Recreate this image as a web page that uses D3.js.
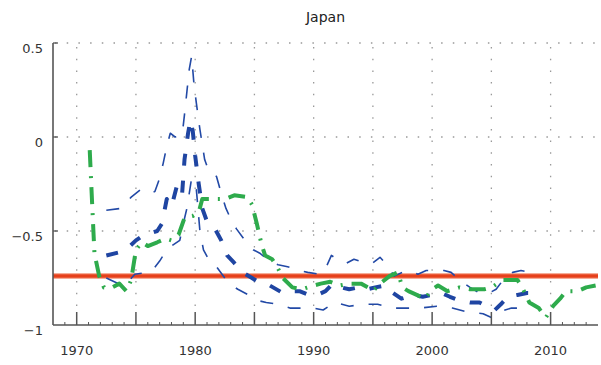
<!DOCTYPE html>
<html>
<head>
<meta charset="utf-8">
<script src="https://cdn.jsdelivr.net/npm/d3@7"></script>
<style>
body { margin: 0; background: #fff; }
text { font-family: "DejaVu Sans", sans-serif; fill: #333; }
</style>
</head>
<body>
<svg id="chart" width="601" height="365"></svg>
<script>
// chart values
var title = "Japan";
var xLabelTicks = [1970, 1980, 1990, 2000, 2010];
var xGridTicks = [1970, 1975, 1980, 1985, 1990, 1995, 2000, 2005, 2010];
var yTicks = [-1, -0.5, 0, 0.5];
var yTickLabels = ["\u22121", "\u22120.5", "0", "0.5"];
var refLevel = [-0.74];

// thin blue dashed, upper band
var upperBand = [
  [1972.5,-0.39],[1973.7,-0.38],[1974.6,-0.32],[1975.4,-0.28],[1976.0,-0.30],[1976.6,-0.29],
  [1977.0,-0.22],[1977.3,-0.14],[1977.6,-0.05],[1977.9,0.02],[1978.3,0.0],[1978.9,0.01],
  [1979.1,0.12],[1979.3,0.24],[1979.5,0.36],[1979.7,0.43],[1979.9,0.28],[1980.1,0.18],
  [1980.4,0.04],[1980.8,-0.12],[1981.2,-0.19],[1981.8,-0.21],[1982.2,-0.30],[1982.6,-0.38],
  [1983.1,-0.45],[1983.5,-0.49],[1984.2,-0.55],[1984.9,-0.60],[1985.5,-0.62],[1986.3,-0.66],
  [1987.0,-0.68],[1987.8,-0.69],[1988.8,-0.71],[1989.5,-0.72],[1990.5,-0.73],[1991.0,-0.70],
  [1991.5,-0.63],[1992.2,-0.66],[1992.8,-0.67],[1993.4,-0.65],[1994.3,-0.67],[1995.0,-0.67],
  [1995.6,-0.64],[1996.2,-0.68],[1996.8,-0.74],[1997.5,-0.72],[1998.1,-0.71],[1998.8,-0.73],
  [1999.5,-0.71],[2000.4,-0.71],[2001.0,-0.71],[2001.6,-0.72],[2002.5,-0.77],[2003.2,-0.80],
  [2004.0,-0.83],[2004.8,-0.83],[2005.4,-0.81],[2006.0,-0.76],[2006.8,-0.72],[2007.5,-0.71],
  [2008.2,-0.72]
];

// thick blue dashed, central estimate
var centralLine = [
  [1972.5,-0.63],[1973.8,-0.61],[1974.5,-0.58],[1975.0,-0.55],[1975.7,-0.52],[1976.3,-0.51],
  [1976.8,-0.50],[1977.2,-0.46],[1977.6,-0.33],[1978.0,-0.37],[1978.5,-0.25],[1978.9,-0.30],
  [1979.1,-0.12],[1979.4,0.02],[1979.6,0.09],[1979.8,0.03],[1980.0,-0.10],[1980.3,-0.25],
  [1980.6,-0.38],[1981.0,-0.45],[1981.6,-0.48],[1982.2,-0.55],[1982.7,-0.63],[1983.3,-0.67],
  [1984.0,-0.72],[1984.8,-0.75],[1985.3,-0.77],[1986.3,-0.79],[1987.4,-0.83],[1988.0,-0.82],
  [1988.8,-0.82],[1989.6,-0.84],[1990.3,-0.84],[1991.0,-0.82],[1991.6,-0.78],[1992.3,-0.80],
  [1993.0,-0.81],[1993.8,-0.80],[1994.5,-0.81],[1995.2,-0.80],[1996.0,-0.79],[1996.7,-0.83],
  [1997.4,-0.86],[1998.5,-0.84],[1999.2,-0.85],[2000.0,-0.84],[2000.8,-0.83],[2001.5,-0.85],
  [2002.3,-0.87],[2003.2,-0.88],[2004.0,-0.88],[2004.6,-0.90],[2005.3,-0.92],[2005.8,-0.89],
  [2006.4,-0.85],[2007.2,-0.84],[2008.0,-0.83],[2008.9,-0.83]
];

// thin blue dashed, lower band
var lowerBand = [
  [1972.5,-0.75],[1973.5,-0.78],[1974.2,-0.78],[1974.9,-0.73],[1976.0,-0.72],[1976.5,-0.70],
  [1977.0,-0.66],[1977.4,-0.62],[1978.0,-0.58],[1978.7,-0.55],[1979.0,-0.46],[1979.3,-0.38],
  [1979.7,-0.22],[1980.1,-0.28],[1980.4,-0.50],[1980.7,-0.60],[1981.3,-0.67],[1981.8,-0.69],
  [1982.5,-0.75],[1983.1,-0.79],[1983.6,-0.81],[1984.5,-0.84],[1985.3,-0.87],[1986.0,-0.88],
  [1987.0,-0.89],[1988.0,-0.91],[1989.0,-0.91],[1990.0,-0.91],[1990.8,-0.92],[1991.8,-0.88],
  [1993.0,-0.90],[1994.3,-0.89],[1995.4,-0.89],[1996.6,-0.91],[1997.8,-0.91],[1999.0,-0.91],
  [2000.4,-0.90],[2001.7,-0.91],[2002.9,-0.93],[2004.3,-0.94],[2005.0,-0.96],[2005.6,-0.93],
  [2006.7,-0.91],[2007.8,-0.91]
];

// thick green dash-dot, actual
var actualLine = [
  [1971.1,-0.07],[1971.3,-0.35],[1971.5,-0.62],[1971.9,-0.74],[1972.3,-0.80],[1973.0,-0.80],
  [1973.6,-0.78],[1974.2,-0.82],[1974.6,-0.76],[1975.0,-0.60],[1975.5,-0.56],[1976.0,-0.58],
  [1976.8,-0.56],[1977.5,-0.54],[1978.0,-0.55],[1978.6,-0.52],[1979.1,-0.43],[1979.8,-0.42],
  [1980.3,-0.40],[1980.6,-0.33],[1981.8,-0.33],[1982.5,-0.33],[1983.3,-0.31],[1984.4,-0.32],
  [1984.8,-0.36],[1985.2,-0.46],[1985.6,-0.57],[1985.9,-0.63],[1986.5,-0.65],[1987.0,-0.70],
  [1987.4,-0.75],[1988.2,-0.80],[1989.0,-0.81],[1990.0,-0.79],[1990.6,-0.78],[1991.4,-0.77],
  [1992.2,-0.79],[1993.0,-0.78],[1994.0,-0.78],[1994.6,-0.80],[1995.0,-0.82],[1995.8,-0.77],
  [1996.4,-0.74],[1997.1,-0.72],[1997.5,-0.80],[1998.0,-0.82],[1998.7,-0.84],[1999.4,-0.86],
  [2000.0,-0.81],[2000.5,-0.79],[2001.3,-0.82],[2002.3,-0.80],[2003.2,-0.81],[2004.4,-0.81],
  [2005.0,-0.80],[2005.5,-0.78],[2006.0,-0.76],[2007.2,-0.76],[2007.6,-0.80],[2008.2,-0.88],
  [2009.0,-0.91],[2009.6,-0.96],[2010.2,-0.90],[2010.8,-0.86],[2011.3,-0.82],[2012.3,-0.82],
  [2013.0,-0.80],[2013.8,-0.79]
];

var svg = d3.select('#chart');
var margin = {l: 53, r: 3, t: 43, b: 40};
var width = +svg.attr('width');
var height = +svg.attr('height');

var x = d3.scaleLinear().domain([1968, 2014]).range([margin.l, width - margin.r]);
var y = d3.scaleLinear().domain([-1, 0.5]).range([height - margin.b, margin.t]);

var x0 = x.range()[0], x1 = x.range()[1];
var y0 = y.range()[0], y1 = y.range()[1];

// title
svg.append('text')
  .attr('x', (x0 + x1) / 2)
  .attr('y', 22)
  .attr('text-anchor', 'middle')
  .style('font-size', '14px')
  .style('fill', '#222')
  .text(title);

// dotted grid
var grid = svg.append('g').attr('class', 'grid');
grid.selectAll('.hgrid')
  .data(yTicks.filter(function(d) { return d > -1; }))
  .enter().append('line')
  .attr('x1', x0 + 2).attr('x2', x1)
  .attr('y1', function(d) { return y(d); })
  .attr('y2', function(d) { return y(d); })
  .style('stroke', '#999')
  .style('stroke-width', 1.3)
  .style('stroke-dasharray', '1.5,10.2');

grid.selectAll('.vgrid')
  .data(xGridTicks)
  .enter().append('line')
  .attr('x1', function(d) { return x(d); })
  .attr('x2', function(d) { return x(d); })
  .attr('y1', y1 + 4).attr('y2', y0 - 14)
  .style('stroke', '#999')
  .style('stroke-width', 1.3)
  .style('stroke-dasharray', '1.5,10.2');

// reference level (red)
svg.selectAll('.ref-halo')
  .data(refLevel)
  .enter().append('line')
  .attr('x1', x0).attr('x2', x1)
  .attr('y1', function(d) { return y(d); })
  .attr('y2', function(d) { return y(d); })
  .style('stroke', '#f5ad98')
  .style('stroke-width', 6);
svg.selectAll('.ref-core')
  .data(refLevel)
  .enter().append('line')
  .attr('x1', x0).attr('x2', x1)
  .attr('y1', function(d) { return y(d); })
  .attr('y2', function(d) { return y(d); })
  .style('stroke', '#e6401b')
  .style('stroke-width', 3.5);

var line = d3.line()
  .x(function(d) { return x(d[0]); })
  .y(function(d) { return y(d[1]); });

var series = [
  {data: upperBand, color: '#2249a6', w: 1.6, dash: '13,15'},
  {data: lowerBand, color: '#2249a6', w: 1.6, dash: '13,15'},
  {data: centralLine, color: '#1f45a2', w: 4, dash: '12,15'},
  {data: actualLine, color: '#2eab4c', w: 4, dash: '17,9,2,9'}
];

svg.selectAll('.series')
  .data(series)
  .enter().append('path')
  .attr('class', 'series')
  .attr('d', function(d) { return line(d.data); })
  .style('fill', 'none')
  .style('stroke', function(d) { return d.color; })
  .style('stroke-width', function(d) { return d.w; })
  .style('stroke-dasharray', function(d) { return d.dash; })
  .style('stroke-linejoin', 'round');

// axes
var axisColor = '#555';
svg.append('line')
  .attr('x1', x0).attr('x2', x0)
  .attr('y1', y1).attr('y2', y0)
  .style('stroke', axisColor).style('stroke-width', 1.6);
svg.append('line')
  .attr('x1', x0).attr('x2', x1)
  .attr('y1', y0).attr('y2', y0)
  .style('stroke', axisColor).style('stroke-width', 1.6);

// y ticks and labels
svg.selectAll('.ytick')
  .data(yTicks.filter(function(d) { return d > -1; }))
  .enter().append('line')
  .attr('x1', x0).attr('x2', x0 + 5)
  .attr('y1', function(d) { return y(d); })
  .attr('y2', function(d) { return y(d); })
  .style('stroke', axisColor).style('stroke-width', 1.3);

svg.selectAll('.ylabel')
  .data(yTicks)
  .enter().append('text')
  .attr('x', x0 - 10)
  .attr('y', function(d) { return y(d) + 10; })
  .attr('text-anchor', 'end')
  .style('font-size', '13px')
  .text(function(d, i) { return yTickLabels[i]; });

// x ticks: minor every year, major every five
svg.selectAll('.xminor')
  .data(d3.range(1969, 2014))
  .enter().append('line')
  .attr('x1', function(d) { return x(d); })
  .attr('x2', function(d) { return x(d); })
  .attr('y1', y0).attr('y2', function(d) { return d % 5 === 0 ? y0 - 13 : y0 - 3; })
  .style('stroke', axisColor)
  .style('stroke-width', function(d) { return d % 5 === 0 ? 1.5 : 1; });

svg.selectAll('.xlabel')
  .data(xLabelTicks)
  .enter().append('text')
  .attr('x', function(d) { return x(d); })
  .attr('y', y0 + 30)
  .attr('text-anchor', 'middle')
  .style('font-size', '13px')
  .text(function(d) { return d; });
</script>
</body>
</html>
